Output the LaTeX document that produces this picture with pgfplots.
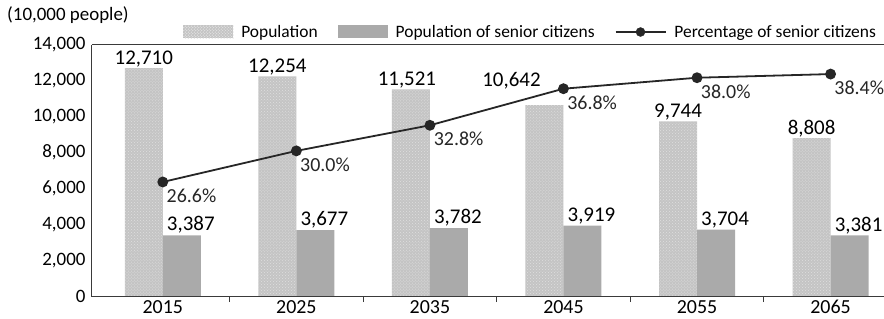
\documentclass[border=0pt]{standalone}
\usepackage{pgfplots}
\pgfplotsset{compat=1.18}
\usepackage{pgfplotstable}
\usetikzlibrary{patterns}
\usepackage{fontspec}
\setmainfont{Carlito}
\definecolor{popbar}{HTML}{C4C4C4}
\definecolor{popdot}{HTML}{E0E0E0}
\definecolor{senbar}{HTML}{AAAAAA}
\definecolor{axisc}{HTML}{3A3A3A}

\pgfplotsset{
  poplegend/.style={legend image code/.code={\fill[popbar] (0bp,-6bp) rectangle (50bp,7bp);
     \fill[pattern=crosshatch dots, pattern color=popdot] (0bp,-6bp) rectangle (50bp,7bp);}},
  senlegend/.style={legend image code/.code={\fill[senbar] (0bp,-6bp) rectangle (50bp,7bp);}},
  linelegend/.style={legend image code/.code={\draw[line width=1.8bp, black!85] (0bp,0bp) -- (50bp,0bp);
     \fill[black!85] (25bp,0bp) circle (4.5bp);}},
}

\pgfplotstableread{
x pop dx dy
0 12710 0 0
1 12254 0 0
2 11521 -4 0
3 10642 -33 15
4 9744 0 0
5 8808 0 0
}\poptable
\pgfplotstableread{
x sen
0 3387
1 3677
2 3782
3 3919
4 3704
5 3381
}\sentable
\pgfplotstableread{
x pct
0 26.6
1 30.0
2 32.8
3 36.8
4 38.0
5 38.4
}\pcttable

\begin{document}
\begin{tikzpicture}
\useasboundingbox (-92bp,-23bp) rectangle (792bp,296bp);
\begin{axis}[
  at={(0,0)}, anchor=south west,
  scale only axis, width=792bp, height=251bp,
  xmin=-0.53, xmax=5.40, ymin=0, ymax=14000,
  axis line style={draw=none},
  xtick={0,1,2,3,4,5},
  xticklabels={2015,2025,2035,2045,2055,2065},
  major x tick style={draw=none},
  minor xtick={0.5,1.5,2.5,3.5,4.5},
  minor x tick style={axisc, line width=1bp},
  minor tick length=6bp,
  tick align=inside, xtick pos=bottom,
  ytick={0,2000,4000,6000,8000,10000,12000,14000},
  major y tick style={draw=none},
  ytick pos=left,
  yticklabel style={/pgf/number format/1000 sep={,}, font=\fontsize{19}{21}\selectfont, xshift=-3bp},
  xticklabel style={font=\fontsize{20}{22}\selectfont, yshift=3.5bp},
  /pgf/number format/assume math mode=true,
  scaled y ticks=false,
  ybar, bar width=38bp,
  clip=false,
  legend style={at={(0.115,1)}, anchor=south west, yshift=4bp, draw=none, fill=none,
    legend columns=3, font=\fontsize{17.5}{19}\selectfont,
    /tikz/every even column/.append style={column sep=18bp},
    /tikz/every odd column/.append style={column sep=6bp},
    inner sep=0pt, cells={anchor=west}},
  legend cell align=left,
]
\addplot[bar shift=-19bp, draw=none, fill=popbar,
  postaction={pattern=crosshatch dots, pattern color=popdot},
  nodes near coords, point meta=explicit,
  visualization depends on={\thisrow{dx}\as\dx},
  visualization depends on={\thisrow{dy}\as\dy},
  every node near coord/.append style={font=\fontsize{21}{23}\selectfont, inner sep=1bp, xshift=\dx bp, yshift=\dy bp, /pgf/number format/1000 sep={,}, /pgf/number format/assume math mode=true},
  poplegend
  ] table[x=x, y=pop, meta=pop] {\poptable};
\addlegendentry{Population}
\addplot[bar shift=19bp, draw=none, fill=senbar,
  nodes near coords, point meta=explicit,
  every node near coord/.append style={font=\fontsize{21}{23}\selectfont, inner sep=1.5bp, xshift=9bp, /pgf/number format/1000 sep={,}, /pgf/number format/assume math mode=true},
  senlegend
  ] table[x=x, y=sen, meta=sen] {\sentable};
\addlegendentry{Population of senior citizens}
\addlegendimage{linelegend}
\addlegendentry{Percentage of senior citizens}
\draw[axisc, line width=1bp] (rel axis cs:0,1) -- (rel axis cs:0,0) -- (rel axis cs:1,0);
\draw[axisc, line width=1bp] (rel axis cs:0,1) -- (rel axis cs:1,1);
\node[anchor=south west, inner sep=0pt, font=\fontsize{19}{21}\selectfont] at ([xshift=-85bp, yshift=21bp]rel axis cs:0,1) {(10,000 people)};
\end{axis}
\begin{axis}[
  at={(0,0)}, anchor=south west,
  scale only axis, width=792bp, height=251bp,
  xmin=-0.53, xmax=5.40, ymin=14.13, ymax=41.58,
  hide axis, clip=false,
]
\addplot[line width=1.8bp, black!85, mark=*, mark size=4.5bp,
  nodes near coords={\pgfmathprintnumber[fixed, fixed zerofill, precision=1]{\pgfplotspointmeta}\%},
  point meta=explicit,
  every node near coord/.append style={anchor=north west, font=\fontsize{20}{22}\selectfont, inner sep=0pt, xshift=3bp, yshift=-6bp, /pgf/number format/assume math mode=true}
  ] table[x=x, y=pct, meta=pct] {\pcttable};
\end{axis}
\end{tikzpicture}
\end{document}
